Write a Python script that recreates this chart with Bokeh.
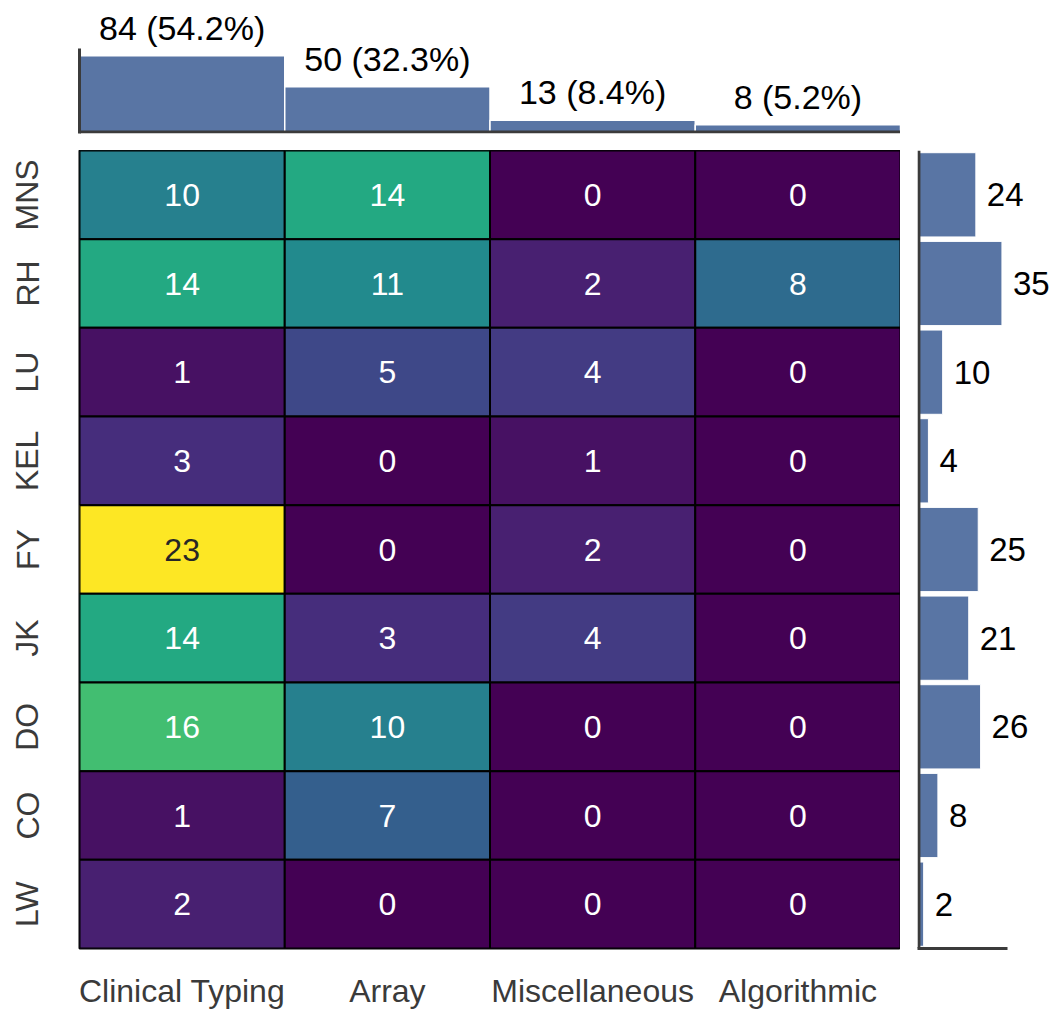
import numpy as np
from bokeh.plotting import figure
from bokeh.layouts import column, row
from bokeh.models import ColumnDataSource, Range1d, FactorRange, FixedTicker, Span
from bokeh.transform import linear_cmap
from bokeh.palettes import Viridis256
from bokeh.core.properties import value
from bokeh.embed import file_html
from bokeh.resources import INLINE

# ---------------- data ----------------
methods = ["Clinical Typing", "Array", "Miscellaneous", "Algorithmic"]
systems = ["MNS", "RH", "LU", "KEL", "FY", "JK", "DO", "CO", "LW"]
clinical_typing = [10, 14, 1, 3, 23, 14, 16, 1, 2]
array_vals = [14, 11, 5, 0, 0, 3, 10, 7, 0]
misc_vals = [0, 2, 4, 1, 2, 4, 0, 0, 0]
algorithmic_vals = [0, 8, 0, 0, 0, 0, 0, 0, 0]

FONT = "Liberation Sans"
BAR_COLOR = "#5975a4"
SPINE = "#3b3b3b"

columns_vals = [clinical_typing, array_vals, misc_vals, algorithmic_vals]
col_totals = [sum(c) for c in columns_vals]
grand = sum(col_totals)
row_totals = [sum(c[i] for c in columns_vals) for i in range(len(systems))]
vmax = max(max(c) for c in columns_vals)

xs, ys, vals, txtcol = [], [], [], []
for m, cv in zip(methods, columns_vals):
    for s, v in zip(systems, cv):
        xs.append(m)
        ys.append(s)
        vals.append(v)
        txtcol.append("#262626" if v / vmax > 0.7 else "#ffffff")
src = ColumnDataSource(dict(x=xs, y=ys, v=vals, t=[str(v) for v in vals], tc=txtcol))

x_range = FactorRange(factors=methods)
y_range = FactorRange(factors=list(reversed(systems)))


def spine_axis(ax, bounds=None):
    ax.axis_line_color = SPINE
    ax.axis_line_width = 3
    ax.ticker = FixedTicker(ticks=[])
    ax.major_tick_line_color = None
    ax.minor_tick_line_color = None
    ax.major_label_standoff = 0
    if bounds is not None:
        ax.bounds = bounds


# ---------------- main heatmap ----------------
main = figure(x_range=x_range, y_range=y_range, frame_width=821, frame_height=798,
              min_border_left=79, min_border_right=0, min_border_top=0, min_border_bottom=61,
              output_backend="svg", toolbar_location=None)
main.rect(x="x", y="y", width=1, height=1, source=src,
          fill_color=linear_cmap("v", Viridis256, 0, vmax),
          line_color="black", line_width=2)
main.text(x="x", y="y", text="t", source=src, text_color="tc",
          text_align="center", text_baseline="middle",
          text_font=value(FONT), text_font_size="32px")
main.grid.visible = False
main.outline_line_color = "black"
main.outline_line_width = 2
for ax in (main.xaxis, main.yaxis):
    ax.axis_line_color = None
    ax.major_tick_line_color = None
    ax.minor_tick_line_color = None
    ax.major_label_text_font = FONT
    ax.major_label_text_font_size = "32px"
    ax.major_label_text_color = "#3a3a3a"
main.xaxis.major_label_standoff = 18
main.yaxis.major_label_standoff = 28
main.yaxis.major_label_orientation = "vertical"

# ---------------- top marginal bars ----------------
top = figure(x_range=x_range, y_range=Range1d(-1.6, 145), frame_width=821, frame_height=133,
             min_border_left=79, min_border_right=0, min_border_top=0, min_border_bottom=17,
             output_backend="svg", toolbar_location=None)
top_labels = [f"{t} ({t / grand * 100:.1f}%)" for t in col_totals]
tsrc = ColumnDataSource(dict(x=methods, top=col_totals, lab=top_labels))
top.vbar(x="x", top="top", bottom=0, width=1, source=tsrc, fill_color=BAR_COLOR,
         line_color="white", line_width=1.5)
top.text(x="x", y="top", text="lab", source=tsrc, text_align="center",
         text_baseline="alphabetic", y_offset=-28, text_color="black",
         text_font=value(FONT), text_font_size="34px")
top.grid.visible = False
top.outline_line_color = None
top.xaxis.visible = False
spine_axis(top.yaxis, bounds=(-1.6, 92))
top.add_layout(Span(location=0, dimension="width", line_color=SPINE, line_width=3))

# ---------------- right marginal bars ----------------
right = figure(x_range=Range1d(-0.6, 58.0), y_range=y_range, frame_width=139, frame_height=798,
               min_border_left=17, min_border_right=0, min_border_top=0, min_border_bottom=61,
               output_backend="svg", toolbar_location=None)
rsrc = ColumnDataSource(dict(y=systems, r=row_totals, lab=[str(v) for v in row_totals]))
right.hbar(y="y", right="r", left=0, height=0.95, source=rsrc, fill_color=BAR_COLOR,
           line_color="white", line_width=1)
right.text(x="r", y="y", text="lab", source=rsrc, text_align="left",
           text_baseline="middle", x_offset=11, text_color="black",
           text_font=value(FONT), text_font_size="33px")
right.grid.visible = False
right.outline_line_color = None
right.yaxis.visible = False
spine_axis(right.xaxis, bounds=(-0.6, 37.5))
right.add_layout(Span(location=0, dimension="height", line_color=SPINE, line_width=3))

layout = column(top, row(main, right))
open("out.html", "w").write(file_html(layout, INLINE))
